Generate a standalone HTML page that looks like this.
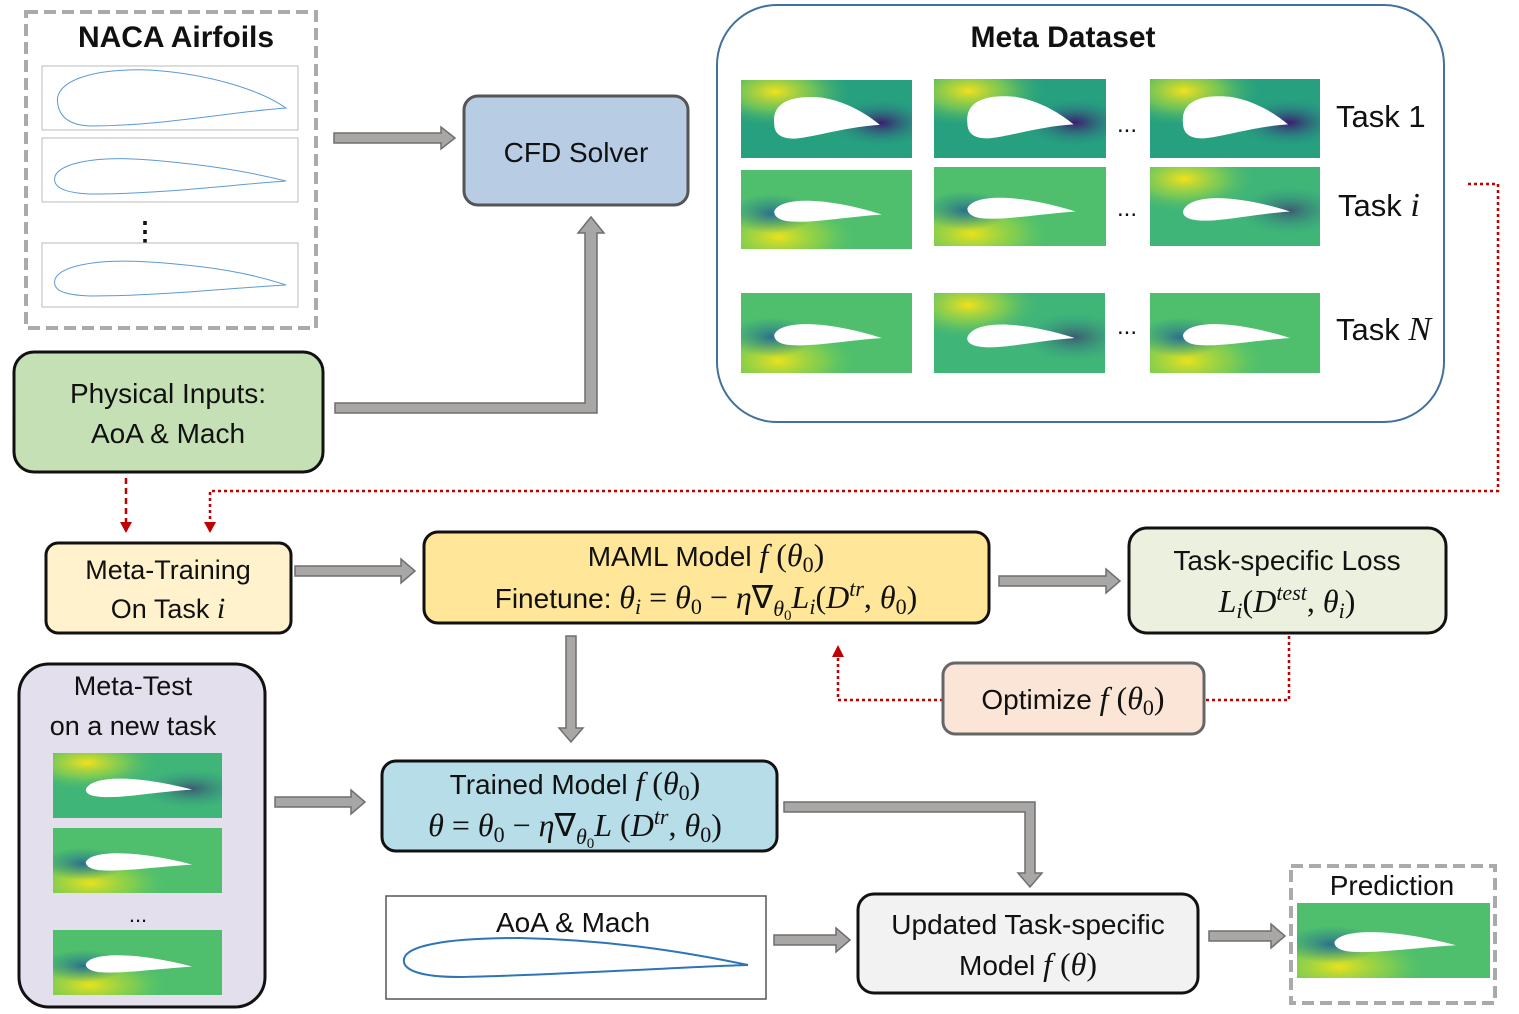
<!DOCTYPE html>
<html><head><meta charset="utf-8"><style>
html,body{margin:0;padding:0;background:#fff;}
svg{display:block;}
text{font-family:"Liberation Sans",sans-serif;fill:#111;}
.m{font-family:"Liberation Serif",serif;font-style:italic;}
.r{font-family:"Liberation Serif",serif;}
</style></head><body>
<svg width="1519" height="1014" viewBox="0 0 1519 1014" xmlns="http://www.w3.org/2000/svg">
<defs>
<radialGradient id="yel" cx="0.2" cy="0.15" r="0.45">
<stop offset="0" stop-color="#f2e11c"/><stop offset="0.5" stop-color="#8fd24a" stop-opacity="0.7"/><stop offset="1" stop-color="#3bb07a" stop-opacity="0"/>
</radialGradient>
<radialGradient id="yel2" cx="0.22" cy="0.85" r="0.45">
<stop offset="0" stop-color="#e9e21d"/><stop offset="0.6" stop-color="#9ad541" stop-opacity="0.6"/><stop offset="1" stop-color="#5cc864" stop-opacity="0"/>
</radialGradient>
<radialGradient id="dark" cx="0.82" cy="0.55" r="0.3">
<stop offset="0" stop-color="#3b1d6e"/><stop offset="1" stop-color="#2a8a8a" stop-opacity="0"/>
</radialGradient>
<radialGradient id="blue" cx="0.18" cy="0.55" r="0.25">
<stop offset="0" stop-color="#2b6f8e"/><stop offset="1" stop-color="#2a8a8a" stop-opacity="0"/>
</radialGradient>
<symbol id="fthick" viewBox="0 0 170 80" preserveAspectRatio="none">
<rect width="170" height="80" fill="#26a07e"/>
<rect width="170" height="80" fill="url(#yel)"/>
<rect width="170" height="80" fill="url(#dark)"/>
<path d="M33 45 C30 18 60 16 80 18 C105 22 125 35 138 46 C105 48 75 58 55 60 C40 61 33 55 33 45Z" fill="#fff"/>
</symbol>
<symbol id="fthin" viewBox="0 0 170 80" preserveAspectRatio="none">
<rect width="170" height="80" fill="#4fbf6d"/>
<rect width="170" height="80" fill="url(#yel2)"/>
<rect width="170" height="80" fill="url(#blue)"/>
<path d="M33 42 C38 28 80 26 140 45 C100 48 70 54 48 52 C38 51 33 47 33 42Z" fill="#fff"/>
</symbol>
<symbol id="fthin2" viewBox="0 0 170 80" preserveAspectRatio="none">
<rect width="170" height="80" fill="#3fb578"/>
<rect width="170" height="80" fill="url(#yel)"/>
<rect width="170" height="80" fill="url(#dark)" opacity="0.6"/>
<path d="M33 45 C38 28 80 26 140 45 C100 48 70 56 48 54 C38 53 33 50 33 45Z" fill="#fff"/>
</symbol>
</defs>

<!-- NACA -->
<rect x="26" y="12" width="290" height="316" fill="#fff" stroke="#aaa" stroke-width="4" stroke-dasharray="12,6"/>
<text x="176" y="47" font-size="30" font-weight="bold" text-anchor="middle">NACA Airfoils</text>
<rect x="42" y="66" width="256" height="64" fill="#fff" stroke="#bbb"/>
<path d="M58 105 C52 82 90 68 150 70 C210 74 260 90 286 108 C230 112 160 126 90 126 C68 125 60 116 58 105Z" fill="none" stroke="#5b9bd5" stroke-width="1"/>
<rect x="42" y="138" width="256" height="64" fill="#fff" stroke="#bbb"/>
<path d="M55 182 C50 165 90 155 150 160 C210 165 250 172 286 181 C230 185 160 194 90 194 C68 193 57 189 55 182Z" fill="none" stroke="#5b9bd5" stroke-width="1"/>
<text x="145" y="240" font-size="26" text-anchor="middle" font-weight="bold">⋮</text>
<rect x="42" y="243" width="256" height="64" fill="#fff" stroke="#bbb"/>
<path d="M55 285 C50 268 90 258 150 262 C210 266 250 273 286 285 C230 288 160 296 90 296 C68 295 57 292 55 285Z" fill="none" stroke="#5b9bd5" stroke-width="1"/>

<g fill="#a9a6a6" stroke="#6f6f6f" stroke-width="1.5">
<polygon points="334,133 441,133 441,127 455,138 441,149 441,143 334,143"/>
<polygon points="335,403 585,403 585,233 578,233 591,217 604,233 597,233 597,413 335,413"/>
<polygon points="295,566 401,566 401,559 415,571 401,583 401,576 295,576"/>
<polygon points="999,576 1106,576 1106,569 1120,581 1106,593 1106,586 999,586"/>
<polygon points="566,636 576,636 576,728 583,728 571,742 559,728 566,728"/>
<polygon points="275,797 351,797 351,790 365,802 351,814 351,807 275,807"/>
<polygon points="784,802 1035,802 1035,873 1042,873 1030,887 1018,873 1025,873 1025,812 784,812"/>
<polygon points="774,935 836,935 836,928 850,940 836,952 836,945 774,945"/>
<polygon points="1209,931 1271,931 1271,924 1285,936 1271,948 1271,941 1209,941"/>
</g>

<!-- CFD -->
<rect x="464" y="96" width="224" height="109" rx="14" fill="#b8cce4" stroke="#555" stroke-width="3"/>
<text x="576" y="162" font-size="28" text-anchor="middle">CFD Solver</text>

<!-- Meta dataset -->
<rect x="717" y="5" width="727" height="417" rx="60" fill="#fff" stroke="#41719c" stroke-width="2"/>
<text x="1063" y="47" font-size="30" font-weight="bold" text-anchor="middle">Meta Dataset</text>
<use href="#fthick" x="741" y="80" width="171" height="78"/>
<use href="#fthick" x="934" y="79" width="172" height="79"/>
<use href="#fthick" x="1150" y="79" width="170" height="79"/>
<use href="#fthin" x="741" y="170" width="171" height="79"/>
<use href="#fthin" x="934" y="167" width="172" height="79"/>
<use href="#fthin2" x="1150" y="167" width="170" height="79"/>
<use href="#fthin" x="741" y="293" width="171" height="80"/>
<use href="#fthin2" x="934" y="293" width="171" height="80"/>
<use href="#fthin" x="1150" y="293" width="170" height="80"/>
<text x="1127" y="132" font-size="24" text-anchor="middle">...</text>
<text x="1127" y="216" font-size="24" text-anchor="middle">...</text>
<text x="1127" y="334" font-size="24" text-anchor="middle">...</text>
<text x="1336" y="127" font-size="31">Task 1</text>
<text x="1338" y="216" font-size="31">Task <tspan class="m" font-size="34">i</tspan></text>
<text x="1336" y="340" font-size="31">Task <tspan class="m" font-size="34">N</tspan></text>

<!-- red connectors -->
<g fill="none" stroke="#c00000" stroke-width="2.5">
<polyline points="1468,184 1498,184 1498,491 210,491 210,522" stroke-dasharray="3,3"/>
<polyline points="126,478 126,522" stroke-dasharray="6,4"/>
<polyline points="943,700 838,700 838,656" stroke-dasharray="3,3"/>
<polyline points="1206,700 1289,700 1289,636" stroke-dasharray="3,3"/>
</g>
<g fill="#c00000">
<polygon points="204,522 216,522 210,533"/>
<polygon points="120,522 132,522 126,533"/>
<polygon points="832,657 844,657 838,645"/>
</g>

<!-- Physical -->
<rect x="14" y="352" width="309" height="120" rx="20" fill="#c5e0b4" stroke="#111" stroke-width="3"/>
<text x="168" y="403" font-size="28" text-anchor="middle">Physical Inputs:</text>
<text x="168" y="443" font-size="28" text-anchor="middle">AoA &amp; Mach</text>

<!-- Meta-Training -->
<rect x="46" y="543" width="245" height="90" rx="12" fill="#fff2cc" stroke="#111" stroke-width="3"/>
<text x="168" y="579" font-size="27" text-anchor="middle">Meta-Training</text>
<text x="168" y="618" font-size="27" text-anchor="middle">On Task <tspan class="m" font-size="30">i</tspan></text>

<!-- MAML -->
<rect x="424" y="532" width="565" height="91" rx="14" fill="#ffe699" stroke="#111" stroke-width="3"/>
<text x="706" y="566" font-size="28" text-anchor="middle">MAML Model <tspan class="m" font-size="32">f</tspan><tspan class="r" font-size="32"> (</tspan><tspan class="m" font-size="32">θ</tspan><tspan class="r" font-size="22" dy="6">0</tspan><tspan class="r" font-size="32" dy="-6">)</tspan></text>
<text x="706" y="608" font-size="28" text-anchor="middle">Finetune: <tspan font-size="32"><tspan class="m">θ</tspan><tspan class="m" font-size="22" dy="6">i</tspan><tspan class="r" dy="-6"> = </tspan><tspan class="m">θ</tspan><tspan class="r" font-size="22" dy="6">0</tspan><tspan class="r" dy="-6"> − </tspan><tspan class="m">η</tspan><tspan class="r">∇</tspan><tspan class="m" font-size="22" dy="8">θ</tspan><tspan class="r" font-size="15" dy="4">0</tspan><tspan class="m" dy="-12">L</tspan><tspan class="m" font-size="22" dy="6">i</tspan><tspan class="r" dy="-6">(</tspan><tspan class="m">D</tspan><tspan class="m" font-size="22" dy="-12">tr</tspan><tspan class="r" dy="12">, </tspan><tspan class="m">θ</tspan><tspan class="r" font-size="22" dy="6">0</tspan><tspan class="r" dy="-6">)</tspan></tspan></text>

<!-- Task-specific loss -->
<rect x="1129" y="528" width="317" height="105" rx="18" fill="#ebf1de" stroke="#111" stroke-width="3"/>
<text x="1287" y="570" font-size="28" text-anchor="middle">Task-specific Loss</text>
<text x="1287" y="612" font-size="32" text-anchor="middle"><tspan class="m">L</tspan><tspan class="m" font-size="22" dy="6">i</tspan><tspan class="r" dy="-6">(</tspan><tspan class="m">D</tspan><tspan class="m" font-size="22" dy="-12">test</tspan><tspan class="r" dy="12">, </tspan><tspan class="m">θ</tspan><tspan class="m" font-size="22" dy="6">i</tspan><tspan class="r" dy="-6">)</tspan></text>

<!-- Optimize -->
<rect x="943" y="663" width="261" height="71" rx="12" fill="#fbe5d6" stroke="#666" stroke-width="3"/>
<text x="1073" y="709" font-size="28" text-anchor="middle">Optimize <tspan class="m" font-size="32">f</tspan><tspan class="r" font-size="32"> (</tspan><tspan class="m" font-size="32">θ</tspan><tspan class="r" font-size="22" dy="6">0</tspan><tspan class="r" font-size="32" dy="-6">)</tspan></text>

<!-- Meta-Test -->
<rect x="19" y="664" width="246" height="343" rx="30" fill="#e4dfec" stroke="#111" stroke-width="3"/>
<text x="133" y="695" font-size="27" text-anchor="middle">Meta-Test</text>
<text x="133" y="735" font-size="27" text-anchor="middle">on a new task</text>
<use href="#fthin2" x="53" y="753" width="169" height="65"/>
<use href="#fthin" x="53" y="828" width="169" height="65"/>
<text x="138" y="922" font-size="22" text-anchor="middle">...</text>
<use href="#fthin" x="53" y="930" width="169" height="65"/>

<!-- Trained -->
<rect x="382" y="761" width="395" height="90" rx="14" fill="#b7dde8" stroke="#111" stroke-width="3"/>
<text x="575" y="794" font-size="28" text-anchor="middle">Trained Model <tspan class="m" font-size="32">f</tspan><tspan class="r" font-size="32"> (</tspan><tspan class="m" font-size="32">θ</tspan><tspan class="r" font-size="22" dy="6">0</tspan><tspan class="r" font-size="32" dy="-6">)</tspan></text>
<text x="575" y="836" font-size="32" text-anchor="middle"><tspan class="m">θ</tspan><tspan class="r"> = </tspan><tspan class="m">θ</tspan><tspan class="r" font-size="22" dy="6">0</tspan><tspan class="r" dy="-6"> − </tspan><tspan class="m">η</tspan><tspan class="r">∇</tspan><tspan class="m" font-size="22" dy="8">θ</tspan><tspan class="r" font-size="15" dy="4">0</tspan><tspan class="m" dy="-12">L</tspan><tspan class="r"> (</tspan><tspan class="m">D</tspan><tspan class="m" font-size="22" dy="-12">tr</tspan><tspan class="r" dy="12">, </tspan><tspan class="m">θ</tspan><tspan class="r" font-size="22" dy="6">0</tspan><tspan class="r" dy="-6">)</tspan></text>

<!-- AoA & Mach -->
<rect x="386" y="896" width="380" height="103" fill="#fff" stroke="#555" stroke-width="1.5"/>
<text x="573" y="932" font-size="28" text-anchor="middle">AoA &amp; Mach</text>
<path d="M405 965 C395 945 450 938 520 938 C620 940 700 955 748 965 C680 967 560 975 460 977 C425 977 410 972 405 965Z" fill="none" stroke="#2e75b6" stroke-width="2"/>

<!-- Updated -->
<rect x="858" y="894" width="340" height="99" rx="16" fill="#f2f2f2" stroke="#111" stroke-width="3"/>
<text x="1028" y="934" font-size="28" text-anchor="middle">Updated Task-specific</text>
<text x="1028" y="975" font-size="28" text-anchor="middle">Model <tspan class="m" font-size="32">f</tspan><tspan class="r" font-size="32"> (</tspan><tspan class="m" font-size="32">θ</tspan><tspan class="r" font-size="32">)</tspan></text>

<!-- Prediction -->
<rect x="1291" y="866" width="204" height="137" fill="#fff" stroke="#aaa" stroke-width="4" stroke-dasharray="12,6"/>
<text x="1392" y="895" font-size="28" text-anchor="middle">Prediction</text>
<use href="#fthin" x="1297" y="903" width="193" height="75"/>
</svg>
</body></html>
